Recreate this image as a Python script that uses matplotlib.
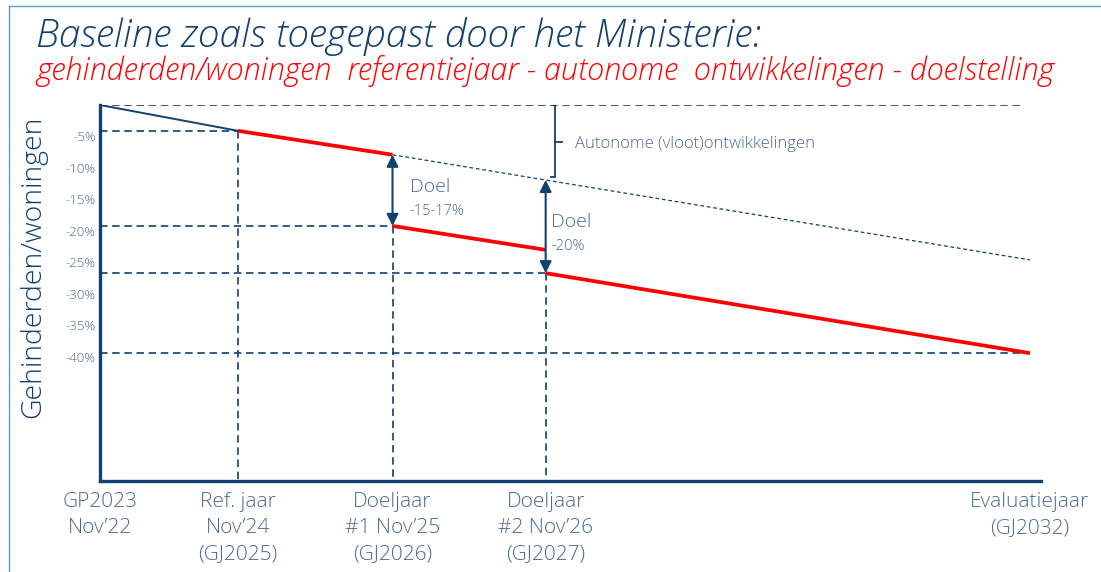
import matplotlib
matplotlib.use("Agg")
import matplotlib.pyplot as plt
from matplotlib.lines import Line2D
from matplotlib.patches import FancyArrowPatch

plt.rcParams['font.family'] = ['Open Sans', 'DejaVu Sans']
LW = 'light'

# ---- data ----
x_labels = ["GP2023\nNov’22",
            "Ref. jaar\nNov’24\n(GJ2025)",
            "Doeljaar\n#1 Nov’25\n(GJ2026)",
            "Doeljaar\n#2 Nov’26\n(GJ2027)",
            "Evaluatiejaar\n(GJ2032)"]
x_pos = [0.0, 1.0, 2.12, 3.23, 6.74]          # timeline positions (schematic)
y_ticks = [-5, -10, -15, -20, -25, -30, -35, -40]

baseline = 0.0
ref_val = -4.1              # reference year level
auto_d1 = -7.9              # autonomous level at Doeljaar #1
target_d1 = -19.2           # target level Doeljaar #1
red_end_d2 = -23.0          # path end before Doeljaar #2 step
auto_d2 = -11.9             # autonomous level at Doeljaar #2
target_d2 = -26.7           # target Doeljaar #2
final_val = -39.4           # evaluation year
auto_final = -24.6          # autonomous trend at evaluation year

NAVY = '#12406f'
TXT = '#4a6a8e'
RED = '#ff0000'

fig = plt.figure(figsize=(11.01, 5.72), dpi=100)
ax = fig.add_axes([100/1101, 91/572, 941/1101, 376/572])
ax.set_xlim(0, 6.82)
ax.set_ylim(-59.7, 0)

for s in ['top', 'right']:
    ax.spines[s].set_visible(False)
for s in ['left', 'bottom']:
    ax.spines[s].set_color(NAVY)
    ax.spines[s].set_linewidth(2.4)

dash_kw = dict(color=NAVY, lw=1.2, dashes=(4.5, 2.8), zorder=1)
ymin = -59.7
# horizontal dashed guides
ax.plot([x_pos[0], 6.7], [baseline, baseline], **dash_kw)
ax.plot([x_pos[0], x_pos[1]], [ref_val, ref_val], **dash_kw)
ax.plot([x_pos[0], x_pos[2]], [target_d1, target_d1], **dash_kw)
ax.plot([x_pos[0], x_pos[3]], [target_d2, target_d2], **dash_kw)
ax.plot([x_pos[0], x_pos[4]], [final_val, final_val], **dash_kw)
# vertical dashed guides
ax.plot([x_pos[1], x_pos[1]], [ref_val, ymin], **dash_kw)
ax.plot([x_pos[2], x_pos[2]], [target_d1, ymin], **dash_kw)
ax.plot([x_pos[3], x_pos[3]], [target_d2, ymin], **dash_kw)

# autonomous dotted trend
ax.plot([x_pos[2], x_pos[4]], [auto_d1, auto_final], color=NAVY, lw=0.9,
        dashes=(3, 2.2), zorder=2)
# initial thin blue
ax.plot([x_pos[0], x_pos[1]], [baseline, ref_val], color=NAVY, lw=1.4, zorder=3)
# red path
ax.plot([x_pos[1], x_pos[2]], [ref_val, auto_d1], color=RED, lw=2.7, zorder=4,
        solid_capstyle='butt')
ax.plot([x_pos[2], x_pos[3]], [target_d1, red_end_d2], color=RED, lw=2.7, zorder=4,
        solid_capstyle='butt')
ax.plot([x_pos[3], x_pos[4]], [target_d2, final_val], color=RED, lw=2.7, zorder=4,
        solid_capstyle='butt')

# double arrows
for xp, y0, y1 in [(x_pos[2], auto_d1, target_d1), (x_pos[3], auto_d2, target_d2)]:
    arr = FancyArrowPatch((xp, y0), (xp, y1), arrowstyle='<|-|>,head_length=7,head_width=3.5',
                          color=NAVY, lw=1.5, shrinkA=0, shrinkB=0, zorder=5,
                          mutation_scale=1)
    ax.add_patch(arr)

# brace for autonomous developments
bx = 3.297
ax.plot([bx - 0.03, bx, bx, bx - 0.03], [baseline, baseline, -11.4, -11.4],
        color=NAVY, lw=1.3, zorder=5, solid_joinstyle='miter')
ax.plot([bx, bx + 0.05], [-5.9, -5.9], color=NAVY, lw=1.3, zorder=5)
ax.text(3.44, -6.2, "Autonome (vloot)ontwikkelingen", color=TXT, fontsize=12,
        fontweight=LW, va='center', ha='left')

ax.text(2.245, -13.0, "Doel", color=TXT, fontsize=14, fontweight=LW,
        va='center', ha='left')
ax.text(2.245, -16.9, "-15-17%", color=TXT, fontsize=10.5, fontweight=LW,
        va='center', ha='left')
ax.text(3.27, -18.6, "Doel", color=TXT, fontsize=14, fontweight=LW,
        va='center', ha='left')
ax.text(3.27, -22.4, "-20%", color=TXT, fontsize=10.5, fontweight=LW,
        va='center', ha='left')

# ticks
ax.set_yticks(y_ticks)
ax.set_yticklabels([f"{v}%" for v in y_ticks], color=TXT, fontsize=9.5, fontweight=LW)
ax.tick_params(axis='y', length=0, pad=3)
ax.set_xticks(x_pos)
ax.set_xticklabels(x_labels, color=TXT, fontsize=15, fontweight=LW,
                   linespacing=1.4, va='top')
ax.tick_params(axis='x', length=0, pad=8)

ax.set_ylabel("Gehinderden/woningen", color=NAVY, fontsize=20.5, fontweight=LW)
ax.yaxis.set_label_coords(-0.056, 0.57)

# titles
t1 = fig.text(36/1101, 1 - 47/572, "Baseline zoals toegepast door het Ministerie:",
              color=NAVY, fontsize=22, style='italic', fontweight=LW, va='baseline')
t2 = fig.text(36/1101, 1 - 80/572,
              "gehinderden/woningen  referentiejaar - autonome  ontwikkelingen - doelstelling",
              color=RED, fontsize=17, style='italic', fontweight=LW, va='baseline')

# fit title widths to the reference layout
r = fig.canvas.get_renderer()
for t, w in [(t1, 724), (t2, 1020)]:
    cur = t.get_window_extent(r).width
    t.set_fontsize(t.get_fontsize() * w / cur)

# light blue frame
fig.add_artist(Line2D([9/1101, 1], [1 - 6/572, 1 - 6/572], color='#5b9bd5', lw=1.0,
                      transform=fig.transFigure))
fig.add_artist(Line2D([9/1101, 9/1101], [0, 1 - 6/572], color='#5b9bd5', lw=1.0,
                      transform=fig.transFigure))

fig.savefig("out.png", dpi=100)
